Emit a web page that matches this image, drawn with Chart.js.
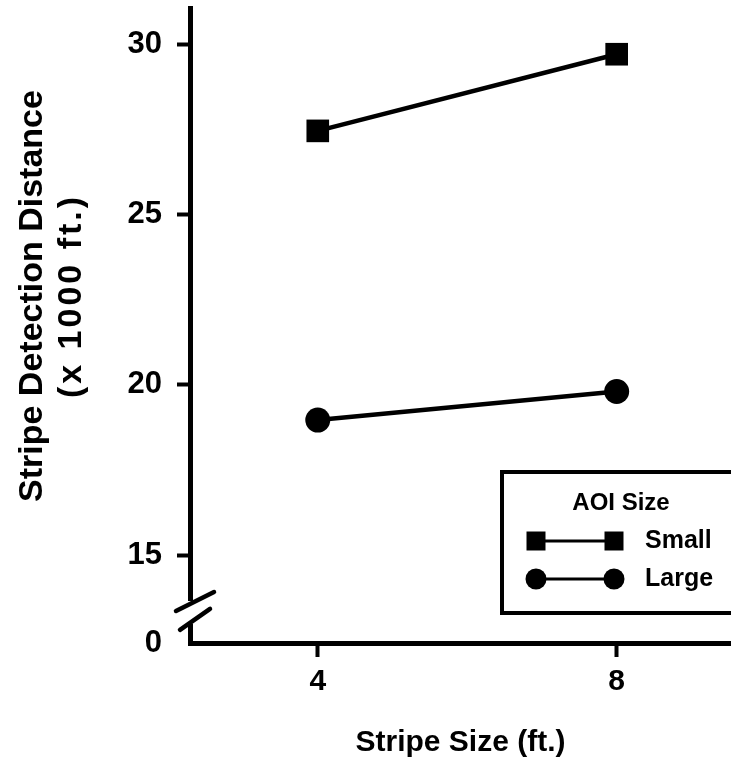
<!DOCTYPE html>
<html>
<head>
    <meta charset="utf-8">
    <title>Stripe Detection Distance</title>
    <style>
        body {
            margin: 0;
            background: #fff;
        }
        .container {
            width: 731px;
            height: 777px;
            position: relative;
        }
    </style>
</head>
<body>
    <div class="container">
        <canvas id="chart"></canvas>
    </div>

    <script src="https://cdn.jsdelivr.net/npm/chart.js"></script>
    <script>
        // data
        const stripeSizes = [4, 8];
        const smallAoi = [27.45, 29.7];
        const largeAoi = [18.96, 19.8];
        const seriesNames = ['Small', 'Large'];
        const legendTitle = 'AOI Size';

        // y axis is broken: the bottom tick sits just under 15 but reads "0"
        const yTickValues = [12.417, 15, 20, 25, 30];
        const yTickLabels = ['0', '15', '20', '25', '30'];
        const xTickValues = [4, 8];

        const xTitle = 'Stripe Size (ft.)';
        const yTitle = ['Stripe Detection Distance', '(x 1000 ft.)'];

        const FONT = '"Liberation Sans", Arial, Helvetica, sans-serif';

        function toPoints(ys) {
            return stripeSizes.map((x, i) => ({ x: x, y: ys[i] }));
        }

        function noPadding(s) {
            s.paddingTop = 0;
            s.paddingBottom = 0;
            s.paddingLeft = 0;
            s.paddingRight = 0;
        }

        // white out a piece of the y axis and draw the two break slashes
        const axisBreak = {
            id: 'axisBreak',
            afterDraw(chart) {
                const ctx = chart.ctx;
                const y = chart.scales.y;
                const ax = chart.chartArea.left;
                const top = y.getPixelForValue(13.65);
                const bot = y.getPixelForValue(12.98);
                ctx.save();
                ctx.fillStyle = '#fff';
                ctx.fillRect(ax - 5, top, 10, bot - top);
                ctx.strokeStyle = '#000';
                ctx.lineWidth = 4.5;
                ctx.lineCap = 'round';
                ctx.beginPath();
                ctx.moveTo(ax - 14, top + 10);
                ctx.lineTo(ax + 24, top - 9);
                ctx.moveTo(ax - 10, bot + 6);
                ctx.lineTo(ax + 20, bot - 15);
                ctx.stroke();
                ctx.restore();
            }
        };

        // two-line rotated y title
        const yTitlePlugin = {
            id: 'yTitlePlugin',
            afterDraw(chart) {
                const ctx = chart.ctx;
                ctx.save();
                ctx.fillStyle = '#000';
                ctx.textAlign = 'center';
                ctx.textBaseline = 'middle';
                ctx.translate(33, 296);
                ctx.rotate(-Math.PI / 2);
                ctx.font = 'bold 34px ' + FONT;
                ctx.fillText(yTitle[0], 0, 0);
                ctx.letterSpacing = '3px';
                ctx.fillText(yTitle[1], 0, 39);
                ctx.restore();
            }
        };

        // boxed legend with line-marker-line samples
        const boxLegend = {
            id: 'boxLegend',
            afterDraw(chart) {
                const ctx = chart.ctx;
                ctx.save();
                ctx.strokeStyle = '#000';
                ctx.lineWidth = 4;
                ctx.strokeRect(502, 472, 260, 141);
                ctx.fillStyle = '#000';
                ctx.textAlign = 'center';
                ctx.textBaseline = 'middle';
                ctx.font = 'bold 24px ' + FONT;
                ctx.fillText(legendTitle, 621, 503);

                chart.data.datasets.forEach((ds, i) => {
                    const ry = 541 + i * 38;
                    const x1 = 536, x2 = 614;
                    ctx.lineWidth = 3;
                    ctx.beginPath();
                    ctx.moveTo(x1, ry);
                    ctx.lineTo(x2, ry);
                    ctx.stroke();
                    [x1, x2].forEach(px => {
                        ctx.beginPath();
                        if (ds.pointStyle === 'rect') {
                            ctx.rect(px - 9.5, ry - 9.5, 19, 19);
                        } else {
                            ctx.arc(px, ry, 10.5, 0, Math.PI * 2);
                        }
                        ctx.fill();
                    });
                    ctx.textAlign = 'left';
                    ctx.font = 'bold 25px ' + FONT;
                    ctx.fillText(seriesNames[i], 645, ry);
                });
                ctx.restore();
            }
        };

        const ctx = document.getElementById('chart').getContext('2d');
        const chart = new Chart(ctx, {
            type: 'line',
            data: {
                datasets: [{
                    label: seriesNames[0],
                    data: toPoints(smallAoi),
                    borderColor: '#000',
                    backgroundColor: '#000',
                    borderWidth: 4.5,
                    pointStyle: 'rect',
                    pointRadius: 16,
                    pointBorderWidth: 0,
                }, {
                    label: seriesNames[1],
                    data: toPoints(largeAoi),
                    borderColor: '#000',
                    backgroundColor: '#000',
                    borderWidth: 4.5,
                    pointStyle: 'circle',
                    pointRadius: 12.5,
                    pointBorderWidth: 0,
                }]
            },
            options: {
                responsive: true,
                maintainAspectRatio: false,
                animation: false,
                layout: {
                    autoPadding: false,
                    padding: { top: 8, left: 0, right: 0, bottom: 0 }
                },
                plugins: {
                    legend: { display: false },
                    tooltip: { enabled: false }
                },
                scales: {
                    x: {
                        type: 'linear',
                        min: 2.29,
                        max: 9.53,
                        afterBuildTicks: s => { s.ticks = xTickValues.map(v => ({ value: v })); },
                        afterFit: s => { s.height = 134; noPadding(s); },
                        grid: {
                            drawOnChartArea: false,
                            tickLength: 14,
                            tickWidth: 4,
                            tickColor: '#000'
                        },
                        border: { color: '#000', width: 5 },
                        ticks: {
                            color: '#000',
                            padding: 7,
                            font: { family: FONT, size: 30, weight: 'bold' }
                        },
                        title: {
                            display: true,
                            text: xTitle,
                            color: '#000',
                            padding: { top: 0, bottom: 16 },
                            font: { family: FONT, size: 30, weight: 'bold' }
                        }
                    },
                    y: {
                        type: 'linear',
                        min: 12.417,
                        max: 31.057,
                        afterBuildTicks: s => { s.ticks = yTickValues.map(v => ({ value: v })); },
                        afterFit: s => { s.width = 190; noPadding(s); },
                        grid: {
                            drawOnChartArea: false,
                            tickLength: 13,
                            tickWidth: 4,
                            tickColor: c => (c.index === 0 ? 'rgba(0,0,0,0)' : '#000')
                        },
                        border: { color: '#000', width: 5 },
                        ticks: {
                            color: '#000',
                            padding: 15,
                            font: { family: FONT, size: 31, weight: 'bold' },
                            callback: (v, i) => yTickLabels[i]
                        }
                    }
                }
            },
            plugins: [axisBreak, yTitlePlugin, boxLegend]
        });
    </script>
</body>
</html>
